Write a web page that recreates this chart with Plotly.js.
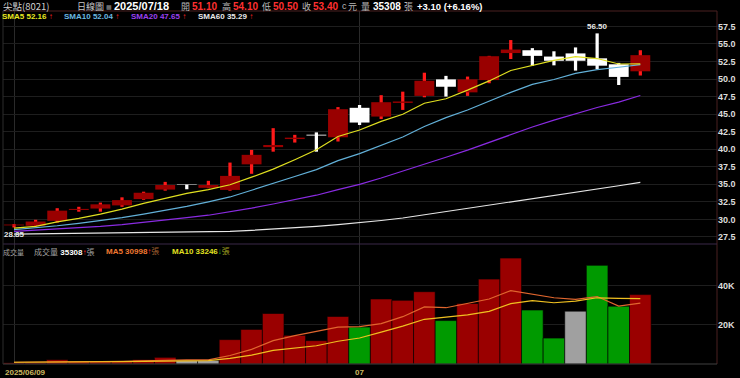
<!DOCTYPE html>
<html><head><meta charset="utf-8">
<script src="https://cdn.plot.ly/plotly-3.0.1.min.js"></script>
<style>html,body{margin:0;padding:0;background:#000;}#chart{width:740px;height:378px;}</style>
</head><body><div id="chart"></div>
<script>
// ---------- data ----------
const dates = ['2025/06/09','2025/06/10','2025/06/11','2025/06/12','2025/06/13','2025/06/16','2025/06/17','2025/06/18','2025/06/19','2025/06/20',
  '2025/06/23','2025/06/24','2025/06/25','2025/06/26','2025/06/27','2025/06/30','2025/07/01','2025/07/02','2025/07/03','2025/07/04',
  '2025/07/07','2025/07/08','2025/07/09','2025/07/10','2025/07/11','2025/07/14','2025/07/15','2025/07/16','2025/07/17','2025/07/18'];
const openP  = [29.15,29.1,29.8,31.35,31.55,32.0,32.9,34.25,34.9,34.5,34.2,37.85,40.3,41.45,42.05,41.7,45.9,44.65,46.6,47.6,49.95,48.1,49.85,53.7,54.1,53.2,53.65,52.95,52.1,51.1];
const highP  = [29.35,29.95,31.6,31.8,32.4,33.15,33.95,35.35,35.05,35.5,38.1,39.9,43.0,42.05,42.4,46.0,46.3,47.7,48.2,50.9,50.45,50.35,53.3,55.55,54.4,53.95,54.5,56.5,52.3,54.1];
const lowP   = [28.85,29.05,29.55,31.1,31.1,31.8,32.8,34.1,34.3,34.45,34.1,36.5,39.65,40.95,39.65,41.1,43.45,44.3,45.6,47.4,47.5,47.6,49.4,52.85,51.9,51.95,51.2,51.4,49.15,50.5];
const closeP = [29.2,29.7,31.25,31.5,32.15,32.75,33.8,34.9,34.9,34.9,36.2,39.2,40.6,41.65,41.95,45.7,43.8,46.7,46.8,49.75,48.9,49.95,53.25,54.2,53.3,52.6,52.6,51.9,50.3,53.4];
const sma5  = [28.75,29.0,29.65,30.15,30.76,31.47,32.29,33.02,33.7,34.25,34.94,36.02,37.16,38.51,39.92,41.82,42.74,43.96,44.99,46.55,47.19,48.42,49.73,51.21,51.92,52.66,53.19,52.92,52.14,52.16];
const sma10 = [28.55,28.8,29.1,29.45,29.8,30.25,30.75,31.3,31.85,32.51,33.2,34.16,35.09,36.11,37.09,38.38,39.38,40.56,41.75,43.24,44.5,45.58,46.85,48.1,49.24,49.93,50.81,51.33,51.68,52.04];
const sma20 = [28.3,28.45,28.6,28.8,29.0,29.25,29.55,29.9,30.25,30.6,31.05,31.6,32.2,32.8,33.45,34.25,35.0,35.9,36.85,37.87,38.86,39.87,40.97,42.1,43.16,44.15,45.09,45.94,46.71,47.65];
const sma60 = [27.9,27.93,27.96,28.0,28.03,28.06,28.1,28.15,28.2,28.25,28.3,28.45,28.6,28.8,29.0,29.25,29.5,29.85,30.2,30.65,31.1,31.55,32.05,32.55,33.0,33.45,33.9,34.35,34.8,35.29];
const volume = [600,700,2200,1300,1500,1300,2200,3400,1850,1850,12400,17600,25700,14600,11900,24200,18800,33100,32400,36800,22100,30800,43200,53900,27460,13200,26900,50200,29400,35308];
const volMA5  = [900,900,1100,1200,1260,1400,1700,1940,2050,2120,4340,7420,11880,14430,16440,18800,19040,20520,24080,29060,28640,31040,33060,37360,35490,33710,32930,34330,29430,30998];
const volMA10 = [900,900,1000,1000,1100,1200,1300,1500,1600,1690,2870,4560,6910,8240,9280,11570,13230,16200,19260,22750,23720,25040,26790,30720,32280,31180,31990,33700,33400,33246];
const priceTicks = [27.5,30,32.5,35,37.5,40,42.5,45,47.5,50,52.5,55,57.5];
const volTicks = [20000,40000];
const volTickText = ['20K','40K'];
const xTickDates = ['2025/06/09','2025/07/01'];
const xTickText = ['2025/06/09','07'];
const stockName = '尖點(8021)';
const chartType = '日線圖';

// ---------- helpers ----------
const N = dates.length;
const idx = dates.map((d,i)=>i);
const L=3, R=717, T=11, B=364;
const px = x => (x-L)/(R-L);
const py = y => (B-y)/(B-T);
const UPB='#990000', UPW='#ff1a1a', DN='#ffffff', FLAT='#9a9a9a';
const bodyCol = idx.map(i => closeP[i]>openP[i]?UPB:(closeP[i]<openP[i]?DN:FLAT));
const wickCol = idx.map(i => closeP[i]>openP[i]?UPW:DN);
const volCol = idx.map(i => {
  if (i===0) return '#9a0000';
  if (closeP[i]>closeP[i-1]) return '#9a0000';
  if (closeP[i]<closeP[i-1]) return '#009a00';
  return '#a0a0a0';
});
const FONT='Liberation Sans, Noto Sans CJK TC, sans-serif';
const CJK='Noto Sans CJK TC, Liberation Sans, sans-serif';

const traces = [
  {type:'bar', x:idx, base:lowP, y:idx.map(i=>highP[i]-lowP[i]), width:0.15,
   marker:{color:wickCol, line:{width:0}}, xaxis:'x', yaxis:'y', hoverinfo:'skip'},
  {type:'bar', x:idx, base:idx.map(i=>Math.min(openP[i],closeP[i])),
   y:idx.map(i=>Math.max(Math.abs(closeP[i]-openP[i]),0.12)), width:0.92,
   marker:{color:bodyCol, line:{width:0}}, xaxis:'x', yaxis:'y', hoverinfo:'skip'},
  {type:'scatter', mode:'lines', x:idx, y:sma60, line:{color:'#e6e6e6', width:1.2}, xaxis:'x', yaxis:'y'},
  {type:'scatter', mode:'lines', x:idx, y:sma20, line:{color:'#8a2be2', width:1.2}, xaxis:'x', yaxis:'y'},
  {type:'scatter', mode:'lines', x:idx, y:sma10, line:{color:'#62b0d8', width:1.2}, xaxis:'x', yaxis:'y'},
  {type:'scatter', mode:'lines', x:idx, y:sma5, line:{color:'#e0e020', width:1.2}, xaxis:'x', yaxis:'y'},
  {type:'bar', x:idx, y:volume, width:1, marker:{color:volCol, line:{color:'#000', width:0.6}}, xaxis:'x', yaxis:'y2'},
  {type:'scatter', mode:'lines', x:idx, y:volMA5, line:{color:'#e0662e', width:1.2}, xaxis:'x', yaxis:'y2'},
  {type:'scatter', mode:'lines', x:idx, y:volMA10, line:{color:'#f0c020', width:1.2}, xaxis:'x', yaxis:'y2'}
];

// ---------- annotations ----------
const ann = [];
function txt(t, x, y, color, size, fam, anchor){
  ann.push({text:t, xref:'paper', yref:'paper', x:px(x), y:py(y), xanchor:anchor||'left', yanchor:'middle',
    showarrow:false, borderpad:0, font:{family:fam||FONT, size:size, color:color}});
}
const last = N-1;
const chg = closeP[last]-closeP[last-1];
const pct = chg/closeP[last-1]*100;
const sgn = v => (v>=0?'+':'') + v.toFixed(2);
// header row
const G='#b8b8b8', RED='#ff3030';
txt(stockName, 2, 6, '#d0d0d0', 9.5, CJK);
txt(chartType, 76, 6, '#c8c8c8', 9, CJK);
txt('▩', 105, 6, '#909090', 6, 'DejaVu Sans');
txt('<b>'+dates[last]+'</b>', 113, 6, '#ffffff', 11);
txt('開', 180, 6, G, 9, CJK); txt('<b>'+openP[last].toFixed(2)+'</b>', 191, 6, RED, 10);
txt('高', 221, 6, G, 9, CJK); txt('<b>'+highP[last].toFixed(2)+'</b>', 232, 6, RED, 10);
txt('低', 261, 6, G, 9, CJK); txt('<b>'+lowP[last].toFixed(2)+'</b>', 272, 6, RED, 10);
txt('收', 301, 6, G, 9, CJK); txt('<b>'+closeP[last].toFixed(2)+'</b>', 312, 6, RED, 10);
txt('c', 341, 6, G, 9); txt('元', 347, 6, G, 9, CJK);
txt('量', 360, 6, G, 9, CJK); txt('<b>'+volume[last]+'</b>', 372, 6, '#ffffff', 10);
txt('張', 403, 6, G, 9, CJK);
txt('<b>'+sgn(chg)+' ('+sgn(pct)+'%)</b>', 416, 6, '#ffffff', 9.5);
// SMA legend row
const arrow = (a)=> a[last]>=a[last-1] ? '<span style="color:#ff2020">↑</span>' : '<span style="color:#20d020">↓</span>';
txt('<b>SMA5 '+sma5[last].toFixed(2)+'</b> '+arrow(sma5), 1, 16, '#e8e820', 8);
txt('<b>SMA10 '+sma10[last].toFixed(2)+'</b> '+arrow(sma10), 63, 16, '#6ab8e0', 8);
txt('<b>SMA20 '+sma20[last].toFixed(2)+'</b> '+arrow(sma20), 130, 16, '#9b40f0', 8);
txt('<b>SMA60 '+sma60[last].toFixed(2)+'</b> '+arrow(sma60), 197, 16, '#e8e8e8', 8);
// volume legend row
txt('成交量', 2, 252, '#a0a0a0', 7, CJK);
txt('成交量 <b><span style="color:#ffffff">'+volume[last]+'</span></b>'+arrow(volume)+'張', 33, 252, '#a0a0a0', 8, FONT);
txt('<b>MA5 '+volMA5[last]+'</b>'+arrow(volMA5)+'<span style="color:#a06030">張</span>', 105, 252, '#f07830', 8);
txt('<b>MA10 '+volMA10[last]+'</b>'+arrow(volMA10)+'<span style="color:#a0a020">張</span>', 171, 252, '#e0e020', 8);
// max / min markers
let iMax=0, iMin=0;
idx.forEach(i=>{ if(highP[i]>highP[iMax]) iMax=i; if(lowP[i]<lowP[iMin]) iMin=i; });
ann.push({text:'<b>'+highP[iMax].toFixed(2)+'</b>', xref:'x', yref:'y', x:iMax, y:highP[iMax], yanchor:'bottom', xanchor:'center',
  showarrow:false, borderpad:0, yshift:1, font:{family:FONT, size:8, color:'#e8e8e8'}});
ann.push({text:'<b>'+lowP[iMin].toFixed(2)+'</b>', xref:'x', yref:'y', x:iMin, y:lowP[iMin], yanchor:'top', xanchor:'center',
  showarrow:false, borderpad:0, yshift:-1, font:{family:FONT, size:8, color:'#e8e8e8'}});
// x tick labels
xTickDates.forEach((d,k)=>{
  const i = dates.indexOf(d);
  ann.push({text:'<b>'+xTickText[k]+'</b>', xref:'x', yref:'paper', x:k===0? i-0.46 : i, y:py(373),
    xanchor:k===0?'left':'center', yanchor:'middle', showarrow:false, borderpad:0,
    font:{family:FONT, size:8, color:'#cdb860'}});
});

const frame = '#4a2020';
const shapes = [
  {type:'line', xref:'paper', yref:'paper', x0:0, x1:1, y0:1, y1:1, line:{color:frame, width:1}},
  {type:'line', xref:'paper', yref:'paper', x0:1, x1:1, y0:0, y1:1, line:{color:frame, width:1}},
  {type:'line', xref:'paper', yref:'paper', x0:0, x1:1, y0:py(244), y1:py(244), line:{color:'#3a2848', width:1}},
  {type:'line', xref:'paper', yref:'paper', x0:0, x1:1, y0:0, y1:0, line:{color:'#404040', width:1}},
  {type:'line', xref:'paper', yref:'paper', x0:0, x1:0, y0:0, y1:1, line:{color:'#2c2c2c', width:1}}
];

const tickFont = {family:FONT, size:9, color:'#dcdcdc', weight:'bold'};
const layout = {
  width:740, height:378, paper_bgcolor:'#000', plot_bgcolor:'#000',
  margin:{l:L, r:740-R, t:T, b:378-B}, showlegend:false, barmode:'overlay',
  xaxis:{range:[-0.51,32.55], tickvals:xTickDates.map(d=>dates.indexOf(d)), showticklabels:false, ticks:'',
    showgrid:true, gridcolor:'#2a2a2a', gridwidth:1, zeroline:false, showline:false, anchor:'y2'},
  yaxis:{domain:[py(244),1], range:[26.5,59.69], side:'right', tickvals:priceTicks, tickformat:'.1f', ticks:'',
    showgrid:true, gridcolor:'#1e1e1e', zeroline:false, showline:false, tickfont:tickFont, anchor:'x'},
  yaxis2:{domain:[0,py(244)], range:[0,61070], side:'right', tickvals:volTicks, ticktext:volTickText, ticks:'',
    showgrid:true, gridcolor:'#1e1e1e', zeroline:false, showline:false, tickfont:tickFont, anchor:'x'},
  annotations:ann, shapes:shapes
};
Plotly.newPlot('chart', traces, layout, {displayModeBar:false, staticPlot:true});
</script></body></html>
